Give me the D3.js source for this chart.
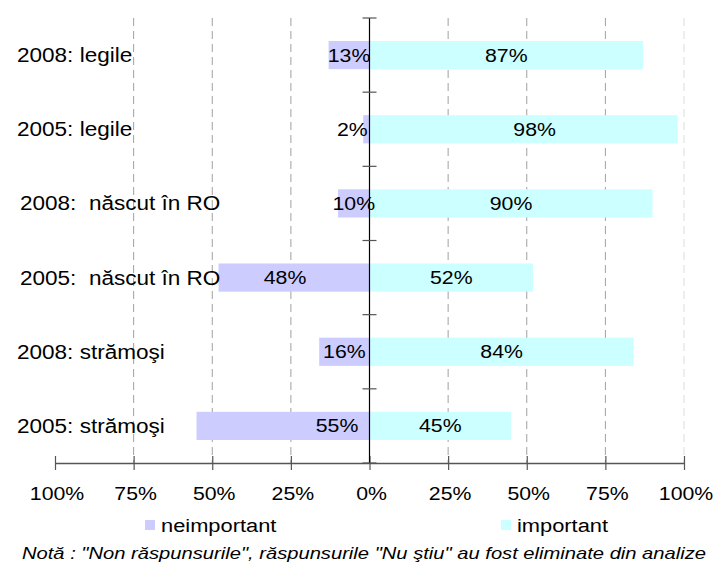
<!DOCTYPE html>
<html><head><meta charset="utf-8">
<script src="https://cdn.jsdelivr.net/npm/d3@7"></script>
<style>
html,body{margin:0;padding:0;background:#fff;}
svg{display:block;font-family:"Liberation Sans",Arial,sans-serif;}
</style></head>
<body><svg id="c" width="713" height="570"></svg>
<script>
const categories = ["2008: legile", "2005: legile", "2008:  născut în RO", "2005:  născut în RO", "2008: strămoşi", "2005: strămoşi"];
const neimportant = [13, 2, 10, 48, 16, 55];
const important = [87, 98, 90, 52, 84, 45];
const tickValues = [-100, -75, -50, -25, 0, 25, 50, 75, 100];
const tickLabels = ["100%", "75%", "50%", "25%", "0%", "25%", "50%", "75%", "100%"];
const seriesNames = ["neimportant", "important"];
const note = "Notă : \"Non răspunsurile\", răspunsurile \"Nu ştiu\" au fost eliminate din analize";

const svg = d3.select("#c");
const colNeg = "#CCCCFF", colPos = "#CCFFFF";
const SX = 1.15; // horizontal text stretch
const FS = 18.5;

const x = d3.scaleLinear().domain([-100, 100]).range([55, 684]);
const y = d3.scaleBand().domain(categories).range([18, 463]).paddingInner(0.62).paddingOuter(0.31);
const yTop = 18, yBot = 463;

function stext(g, tx, ty, str, anchor, size, opts) {
  const t = g.append("text")
    .attr("transform", `translate(${tx},${ty}) scale(${SX},1)`)
    .attr("text-anchor", anchor || "start")
    .attr("dominant-baseline", "central")
    .attr("font-size", size || FS)
    .attr("fill", "#000")
    .style("white-space", "pre")
    .text(str);
  if (opts && opts.italic) t.attr("font-style", "italic");
  return t;
}

// gridlines
const grid = svg.append("g");
tickValues.filter(v => v !== 0 && v !== -100).forEach(v => {
  grid.append("line")
    .attr("x1", x(v)).attr("x2", x(v)).attr("y1", yTop).attr("y2", yBot)
    .attr("stroke", v === 100 ? "#dcdcdc" : "#a0a0a0")
    .attr("stroke-width", 1)
    .attr("stroke-dasharray", "8,5");
});

// bars
const bars = svg.append("g");
categories.forEach((c, i) => {
  bars.append("rect")
    .attr("x", x(-neimportant[i])).attr("y", y(c))
    .attr("width", x(0) - x(-neimportant[i])).attr("height", y.bandwidth())
    .attr("fill", colNeg);
  bars.append("rect")
    .attr("x", x(0)).attr("y", y(c))
    .attr("width", x(important[i]) - x(0)).attr("height", y.bandwidth())
    .attr("fill", colPos);
});

// bottom axis
const axB = svg.append("g").attr("transform", `translate(0,${yBot})`)
  .call(d3.axisBottom(x).tickValues(tickValues).tickFormat("").tickSize(7).tickSizeOuter(0));
axB.select(".domain").attr("stroke", "#555").attr("stroke-width", 1.5);
axB.selectAll(".tick line").attr("stroke", "#555").attr("y1", -7).attr("stroke-width", 1.2);

// vertical center axis with category boundary ticks
const axV = svg.append("g");
axV.append("line").attr("x1", x(0)).attr("x2", x(0)).attr("y1", yTop).attr("y2", yBot)
  .attr("stroke", "#000").attr("stroke-width", 1.2);
const boundaries = categories.map((c, i) => yTop + i * y.step()).concat([yBot]);
boundaries.forEach(b => {
  axV.append("line").attr("x1", x(0) - 7).attr("x2", x(0) + 7).attr("y1", b).attr("y2", b)
    .attr("stroke", "#555").attr("stroke-width", 1.2);
});

// tick labels
const tl = svg.append("g");
tickValues.forEach((v, i) => {
  stext(tl, x(v) + 2, 494, tickLabels[i], "middle");
});

// category labels
const cl = svg.append("g");
categories.forEach((c, i) => {
  stext(cl, c.indexOf("născut") >= 0 ? 20 : 17, y(c) + y.bandwidth() / 2, c, "start", 19.6);
});

// value labels (small nudges mimic the original label placement)
const nudgeNeg = {"2005: legile": -14, "2005:  născut în RO": -9, "2005: strămoşi": 54};
const nudgePos = {"2005: legile": 11};
const vl = svg.append("g");
categories.forEach((c, i) => {
  const cy = y(c) + y.bandwidth() / 2;
  const nx = (x(-neimportant[i]) + x(0)) / 2 + (nudgeNeg[c] || 0);
  stext(vl, nx, cy, neimportant[i] + "%", "middle");
  const px = (x(important[i]) + x(0)) / 2 + (nudgePos[c] || 0);
  stext(vl, px, cy, important[i] + "%", "middle");
});

// legend
const lg = svg.append("g");
const legendX = [145, 501];
seriesNames.forEach((s, i) => {
  lg.append("rect").attr("x", legendX[i]).attr("y", 520).attr("width", 10).attr("height", 10)
    .attr("fill", i === 0 ? colNeg : colPos);
  stext(lg, legendX[i] + 16, 525, s, "start", 19);
});

// note
svg.append("text")
  .attr("x", 22).attr("y", 553)
  .attr("dominant-baseline", "central")
  .attr("font-size", 16.5).attr("font-style", "italic")
  .attr("textLength", 684).attr("lengthAdjust", "spacingAndGlyphs")
  .text(note);
</script></body></html>
